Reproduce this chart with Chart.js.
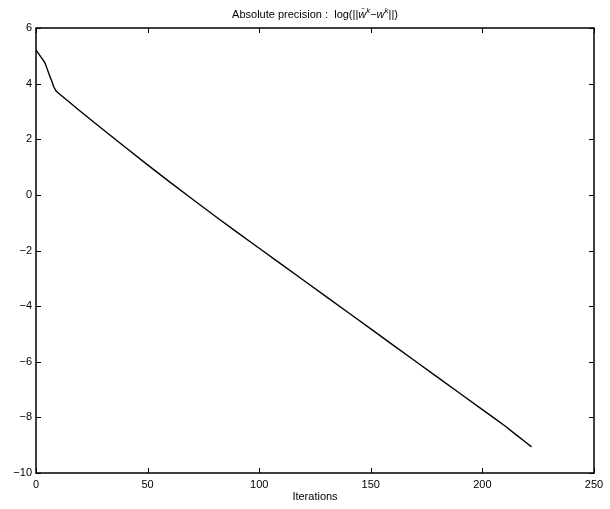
<!DOCTYPE html>
<html>
<head>
<meta charset="utf-8">
<script src="https://cdn.jsdelivr.net/npm/chart.js@4"></script>
<style>
  html, body { margin: 0; padding: 0; background: #fff; }
  #wrap { width: 610px; height: 509px; }
</style>
</head>
<body>
<div id="wrap"><canvas id="precChart" width="610" height="509"></canvas></div>
<script>
(function () {
    'use strict';

    // values
    var iterations = [0, 1, 2, 3, 4, 5, 6, 7, 8, 9, 10, 20, 30, 40, 50, 60, 70,
        80, 90, 100, 110, 120, 130, 140, 150, 160, 170, 180, 190, 200, 205, 210, 215, 220, 222];
    var logError = [5.21, 5.10, 4.98, 4.87, 4.75, 4.53, 4.31, 4.10, 3.88, 3.73, 3.66, 3.00, 2.35,
        1.71, 1.08, 0.46, -0.15, -0.75, -1.34, -1.92, -2.50, -3.08, -3.66, -4.24, -4.82,
        -5.40, -5.98, -6.56, -7.14, -7.72, -8.01, -8.30, -8.62, -8.93, -9.06];
    var xTicks = [0, 50, 100, 150, 200, 250];
    var yTicks = [-10, -8, -6, -4, -2, 0, 2, 4, 6];

    var FONT = 'Liberation Sans, Arial, Helvetica, sans-serif';

    var points = iterations.map(function (it, i) { return { x: it, y: logError[i] }; });

    function fmt(v) {
        return v < 0 ? '\u2212' + Math.abs(v) : String(v);
    }

    // inward ticks on all four sides plus the box, like a matlab axes
    var boxPlugin = {
        id: 'matlabBox',
        afterDraw: function (chart) {
            var ctx = chart.ctx;
            var a = chart.chartArea;
            var sx = chart.scales.x, sy = chart.scales.y;
            var len = 5;
            ctx.save();
            ctx.strokeStyle = '#000';
            ctx.lineWidth = 1;
            ctx.beginPath();
            xTicks.forEach(function (t) {
                var px = Math.round(sx.getPixelForValue(t)) + 0.5;
                ctx.moveTo(px, a.bottom); ctx.lineTo(px, a.bottom - len);
                ctx.moveTo(px, a.top); ctx.lineTo(px, a.top + len);
            });
            yTicks.forEach(function (t) {
                var py = Math.round(sy.getPixelForValue(t)) + 0.5;
                ctx.moveTo(a.left, py); ctx.lineTo(a.left + len, py);
                ctx.moveTo(a.right, py); ctx.lineTo(a.right - len, py);
            });
            ctx.stroke();
            ctx.lineWidth = 1.5;
            ctx.strokeRect(a.left, a.top, a.right - a.left, a.bottom - a.top);
            ctx.restore();
        }
    };

    // title with superscripts and the barred w
    var titlePlugin = {
        id: 'mathTitle',
        afterDraw: function (chart) {
            var ctx = chart.ctx;
            var a = chart.chartArea;
            var parts = [
                { t: 'Absolute precision :  log(||', f: '11px ' + FONT, dy: 0 },
                { t: 'w\u0304', f: 'italic 11px ' + FONT, dy: 0 },
                { t: 'k', f: 'italic 8px ' + FONT, dy: -5 },
                { t: '\u2212', f: '11px ' + FONT, dy: 0 },
                { t: 'w', f: 'italic 11px ' + FONT, dy: 0 },
                { t: 'k', f: 'italic 8px ' + FONT, dy: -5 },
                { t: '||)', f: '11px ' + FONT, dy: 0 }
            ];
            ctx.save();
            ctx.fillStyle = '#000';
            ctx.textBaseline = 'alphabetic';
            var total = 0;
            parts.forEach(function (p) { ctx.font = p.f; p.w = ctx.measureText(p.t).width; total += p.w; });
            var x = (a.left + a.right) / 2 - total / 2;
            var base = 18;
            parts.forEach(function (p) {
                ctx.font = p.f;
                ctx.fillText(p.t, x, base + p.dy);
                x += p.w;
            });
            ctx.restore();
        }
    };

    new Chart(document.getElementById('precChart'), {
        type: 'scatter',
        data: {
            datasets: [{
                data: points,
                showLine: true,
                borderColor: '#000',
                borderWidth: 1.4,
                pointRadius: 0,
                tension: 0,
                fill: false
            }]
        },
        options: {
            responsive: false,
            animation: false,
            layout: { padding: { top: 28, right: 16, left: 0, bottom: 0 } },
            plugins: {
                legend: { display: false },
                tooltip: { enabled: false },
                title: { display: false }
            },
            scales: {
                x: {
                    type: 'linear',
                    min: 0,
                    max: 250,
                    afterBuildTicks: function (scale) {
                        scale.ticks = xTicks.map(function (v) { return { value: v }; });
                    },
                    afterFit: function (scale) { scale.height = 36; },
                    grid: { display: false, drawTicks: false },
                    border: { display: false },
                    ticks: {
                        padding: 5,
                        color: '#000',
                        font: { family: FONT, size: 11 },
                        maxRotation: 0,
                        callback: fmt
                    },
                    title: {
                        display: true,
                        text: 'Iterations',
                        color: '#000',
                        font: { family: FONT, size: 11 },
                        padding: { top: 0, bottom: 5 }
                    }
                },
                y: {
                    type: 'linear',
                    min: -10,
                    max: 6,
                    afterBuildTicks: function (scale) {
                        scale.ticks = yTicks.map(function (v) { return { value: v }; });
                    },
                    afterFit: function (scale) { scale.width = 36; },
                    grid: { display: false, drawTicks: false },
                    border: { display: false },
                    ticks: {
                        padding: 4,
                        color: '#000',
                        font: { family: FONT, size: 11 },
                        callback: fmt
                    }
                }
            }
        },
        plugins: [boxPlugin, titlePlugin]
    });
})();
</script>
</body>
</html>
